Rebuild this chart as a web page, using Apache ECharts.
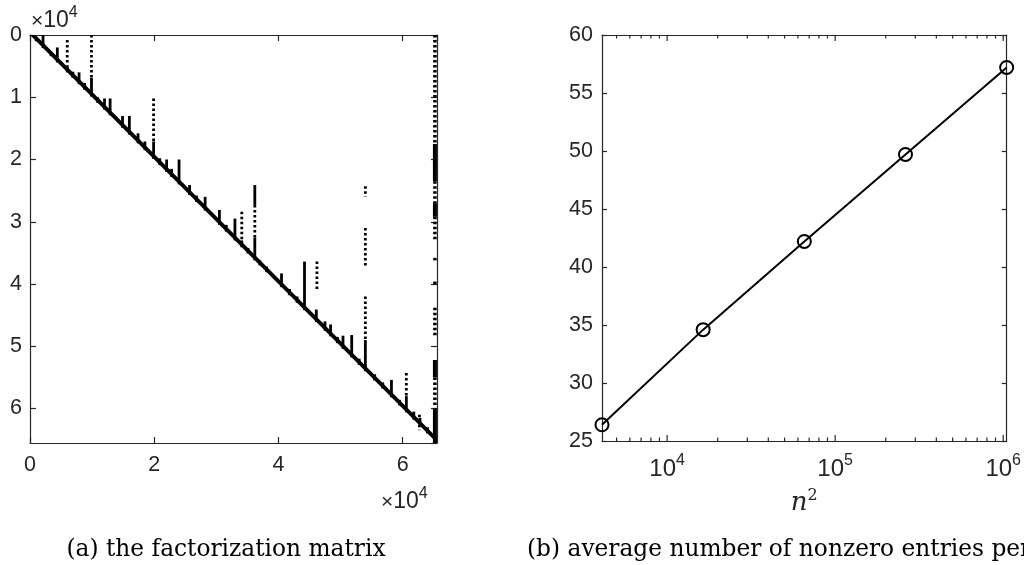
<!DOCTYPE html>
<html>
<head>
<meta charset="utf-8">
<script src="https://cdn.jsdelivr.net/npm/echarts@6/dist/echarts.min.js"></script>
<style>
  html, body { margin: 0; padding: 0; background: #fff; }
  #chart { width: 1024px; height: 565px; }
</style>
</head>
<body>
<div id="chart"></div>
<script>
// ---------- Panel (a): sparsity pattern of the factorization (units of 10^4) ----------
const matrixSize = 6.5536;            // 65536 rows / columns
const spyBandWidth = 0.09;            // thickness of the dense diagonal band (rows)
// short spikes that start at a row and run down to the diagonal: [column, topRow]
const diagonalTeeth = [
  [0.10, 0.04], [0.21, 0.00], [0.34, 0.27], [0.44, 0.20], [0.69, 0.59], [0.79, 0.60],
  [0.88, 0.77], [1.09, 1.00], [1.20, 1.02], [1.29, 1.02], [1.49, 1.30], [1.60, 1.30],
  [1.74, 1.58], [1.85, 1.71], [2.09, 1.98], [2.20, 2.00], [2.28, 2.15], [2.40, 2.00],
  [2.57, 2.41], [2.68, 2.58], [2.82, 2.60], [3.05, 2.81], [3.16, 3.05], [3.30, 2.95],
  [3.51, 3.42], [3.70, 3.62], [3.81, 3.72], [4.05, 3.83], [4.18, 4.08], [4.30, 4.20],
  [4.42, 3.64], [4.61, 4.41], [4.75, 4.60], [4.84, 4.65], [4.95, 4.85], [5.04, 4.83],
  [5.18, 4.82], [5.30, 5.20], [5.55, 5.45], [5.68, 5.58], [5.82, 5.54], [5.95, 5.86],
  [6.18, 6.05], [6.28, 6.15], [6.40, 6.30]
];
// dense vertical runs: [column, topRow, bottomRow]
const solidSpikes = [
  [0.60, 0.49, 0.60], [0.99, 0.69, 0.99], [1.99, 1.71, 1.99], [3.41, 3.30, 3.41],
  [3.62, 2.41, 2.73], [3.62, 3.25, 3.62], [5.40, 4.90, 5.40], [6.06, 5.80, 6.06]
];
// sparse (dotted) vertical runs: [column, topRow, bottomRow]
const dottedSpikes = [
  [0.60, 0.08, 0.49], [0.99, 0.00, 0.69], [1.99, 1.02, 1.71], [3.41, 2.84, 3.30],
  [3.62, 2.73, 3.25], [4.62, 3.64, 4.10], [5.40, 2.43, 2.60], [5.40, 3.10, 3.72],
  [5.40, 4.20, 4.90], [6.06, 5.43, 5.80], [6.27, 6.10, 6.35]
];
// last separator block (columns ~6.50–6.55): dense and sparse runs [column, topRow, bottomRow]
const separatorDense = [
  [6.52, 1.75, 2.35], [6.52, 2.70, 2.92], [6.52, 5.22, 5.50], [6.52, 6.00, 6.5536]
];
const separatorSparse = [
  [6.52, 0.00, 1.75], [6.52, 2.35, 2.70], [6.52, 2.92, 3.30], [6.52, 3.58, 3.64],
  [6.52, 3.96, 4.02], [6.52, 4.38, 4.85], [6.52, 5.50, 5.95]
];

// ---------- Panel (b): average number of nonzeros per row ----------
const nSquared = [4096, 16384, 65536, 262144, 1048576];
const avgNnzPerRow = [26.4, 34.6, 42.2, 49.7, 57.2];
const yTicksB = [25, 30, 35, 40, 45, 50, 55, 60];
const xMajorTicksB = [1e4, 1e5, 1e6];
const xMinorTicksB = [5000, 6000, 7000, 8000, 9000,
  20000, 30000, 40000, 50000, 60000, 70000, 80000, 90000,
  200000, 300000, 400000, 500000, 600000, 700000, 800000, 900000];

const ink = '#262626';
const sans = 'Liberation Sans';
const serif = 'DejaVu Serif';

const chart = echarts.init(document.getElementById('chart'), null, { renderer: 'canvas' });

const boxAxisLine = { show: true, onZero: false, lineStyle: { color: ink, width: 1.2 } };
const tickIn = (len) => ({ show: true, inside: true, length: len, lineStyle: { color: ink, width: 1.2 } });

function powLabel(v) {
  const e = Math.round(Math.log10(v));
  if (Math.abs(Math.pow(10, e) - v) / v > 1e-6) return '';
  return '{b|10}{s|' + e + '}';
}

const times10Rich = {
  m: { fontSize: 21, fontFamily: sans, fill: ink, verticalAlign: 'bottom', lineHeight: 27 },
  b: { fontSize: 23, fontFamily: sans, fill: ink, verticalAlign: 'bottom', lineHeight: 27 },
  s: { fontSize: 16, fontFamily: sans, fill: ink, verticalAlign: 'top', lineHeight: 16 }
};

function segRender(dotted, width) {
  return function (params, api) {
    const c = api.value(0);
    const p1 = api.coord([c, api.value(1)]);
    const p2 = api.coord([c, api.value(2)]);
    return {
      type: 'line',
      shape: { x1: p1[0], y1: p1[1], x2: p2[0], y2: p2[1] },
      style: dotted
        ? { stroke: '#000', lineWidth: width, lineDash: [2.5, 2.5] }
        : { stroke: '#000', lineWidth: width }
    };
  };
}

function logTickRender(len) {
  return function (params, api) {
    const v = api.value(0);
    const pb = api.coord([v, yTicksB[0]]);
    const pt = api.coord([v, yTicksB[yTicksB.length - 1]]);
    const st = { stroke: ink, lineWidth: 1.2 };
    return { type: 'group', children: [
      { type: 'line', shape: { x1: pb[0], y1: pb[1], x2: pb[0], y2: pb[1] - len }, style: st },
      { type: 'line', shape: { x1: pt[0], y1: pt[1], x2: pt[0], y2: pt[1] + len }, style: st }
    ] };
  };
}

const option = {
  backgroundColor: '#fff',
  animation: false,
  grid: [
    { left: 30, top: 35, width: 407, height: 408 },
    { left: 602, top: 35, width: 406, height: 406 }
  ],
  xAxis: [
    { gridIndex: 0, type: 'value', position: 'bottom', min: 0, max: matrixSize, interval: 2,
      axisLine: boxAxisLine, axisTick: tickIn(6), splitLine: { show: false },
      axisLabel: { show: true, showMaxLabel: false, color: ink, fontFamily: sans, fontSize: 21.5, margin: 11 } },
    { gridIndex: 0, type: 'value', position: 'top', min: 0, max: matrixSize, interval: 2,
      axisLine: boxAxisLine, axisTick: tickIn(6), splitLine: { show: false }, axisLabel: { show: false } },
    { gridIndex: 1, type: 'log', logBase: 10, position: 'bottom', min: nSquared[0], max: nSquared[nSquared.length - 1],
      axisLine: boxAxisLine, axisTick: { show: false }, splitLine: { show: false },
      axisLabel: { show: true, color: ink, fontFamily: sans, margin: 12, formatter: powLabel,
        rich: { b: { fontSize: 24, fontFamily: sans, color: ink, verticalAlign: 'bottom', lineHeight: 28 },
                s: { fontSize: 16, fontFamily: sans, color: ink, verticalAlign: 'top', lineHeight: 16 } } },
      name: '{i|n}{s|2}', nameLocation: 'middle', nameGap: 47,
      nameTextStyle: { rich: { i: { fontSize: 26, fontFamily: serif, fontStyle: 'italic', color: ink, verticalAlign: 'bottom', lineHeight: 28 },
                                s: { fontSize: 16, fontFamily: serif, color: ink, verticalAlign: 'top', lineHeight: 16 } } } },
    { gridIndex: 1, type: 'log', logBase: 10, position: 'top', min: nSquared[0], max: nSquared[nSquared.length - 1],
      axisLine: boxAxisLine, axisTick: { show: false }, splitLine: { show: false }, axisLabel: { show: false } }
  ],
  yAxis: [
    { gridIndex: 0, type: 'value', position: 'left', inverse: true, min: 0, max: matrixSize, interval: 1,
      axisLine: boxAxisLine, axisTick: tickIn(6), splitLine: { show: false },
      axisLabel: { show: true, showMaxLabel: false, color: ink, fontFamily: sans, fontSize: 21.5, margin: 8 } },
    { gridIndex: 0, type: 'value', position: 'right', inverse: true, min: 0, max: matrixSize, interval: 1,
      axisLine: boxAxisLine, axisTick: tickIn(6), splitLine: { show: false }, axisLabel: { show: false } },
    { gridIndex: 1, type: 'value', position: 'left', min: yTicksB[0], max: yTicksB[yTicksB.length - 1], interval: 5,
      axisLine: boxAxisLine, axisTick: tickIn(5), splitLine: { show: false },
      axisLabel: { show: true, color: ink, fontFamily: sans, fontSize: 21.5, margin: 9 } },
    { gridIndex: 1, type: 'value', position: 'right', min: yTicksB[0], max: yTicksB[yTicksB.length - 1], interval: 5,
      axisLine: boxAxisLine, axisTick: tickIn(5), splitLine: { show: false }, axisLabel: { show: false } }
  ],
  title: [
    { text: '(a) the factorization matrix', left: 221, top: 533, textAlign: 'center',
      textStyle: { fontFamily: serif, fontSize: 23.3, fontWeight: 'normal', color: '#000' } },
    { text: '(b) average number of nonzero entries per row', left: 522, top: 533,
      textStyle: { fontFamily: serif, fontSize: 23.3, fontWeight: 'normal', color: '#000' } }
  ],
  graphic: [
    { type: 'text', left: 31, top: 5, style: { text: '{m|×}{b|10}{s|4}', rich: times10Rich } },
    { type: 'text', left: 381, top: 486, style: { text: '{m|×}{b|10}{s|4}', rich: times10Rich } }
  ],
  series: [
    { // dense diagonal band
      type: 'custom', xAxisIndex: 0, yAxisIndex: 0, silent: true,
      data: [[0, matrixSize, spyBandWidth]],
      renderItem: function (params, api) {
        const a = api.value(0), b = api.value(1), w = api.value(2);
        const pts = [api.coord([a, a]), api.coord([b, b]), api.coord([b, b - w]), api.coord([a + w, a])];
        return { type: 'polygon', shape: { points: pts }, style: { fill: '#000' } };
      }
    },
    { // teeth along the diagonal
      type: 'custom', xAxisIndex: 0, yAxisIndex: 0, silent: true,
      data: diagonalTeeth,
      renderItem: function (params, api) {
        const c = api.value(0);
        const p1 = api.coord([c, api.value(1)]);
        const p2 = api.coord([c, c]);
        return { type: 'line', shape: { x1: p1[0], y1: p1[1], x2: p2[0], y2: p2[1] },
                 style: { stroke: '#000', lineWidth: 2.8 } };
      }
    },
    { type: 'custom', xAxisIndex: 0, yAxisIndex: 0, silent: true, data: solidSpikes, renderItem: segRender(false, 2.8) },
    { type: 'custom', xAxisIndex: 0, yAxisIndex: 0, silent: true, data: dottedSpikes, renderItem: segRender(true, 2.8) },
    { type: 'custom', xAxisIndex: 0, yAxisIndex: 0, silent: true, data: separatorDense, renderItem: segRender(false, 4) },
    { type: 'custom', xAxisIndex: 0, yAxisIndex: 0, silent: true, data: separatorSparse, renderItem: segRender(true, 3.5) },
    { type: 'custom', xAxisIndex: 2, yAxisIndex: 2, silent: true,
      data: xMinorTicksB.map(v => [v]), renderItem: logTickRender(3.5) },
    { type: 'custom', xAxisIndex: 2, yAxisIndex: 2, silent: true,
      data: xMajorTicksB.map(v => [v]), renderItem: logTickRender(6) },
    {
      type: 'line', xAxisIndex: 2, yAxisIndex: 2,
      data: nSquared.map((x, i) => [x, avgNnzPerRow[i]]),
      symbol: 'circle', symbolSize: 13, showSymbol: true,
      lineStyle: { color: '#000', width: 2 },
      itemStyle: { color: 'rgba(0,0,0,0)', borderColor: '#000', borderWidth: 2 },
      clip: false, z: 5
    }
  ]
};
chart.setOption(option);
</script>
</body>
</html>
